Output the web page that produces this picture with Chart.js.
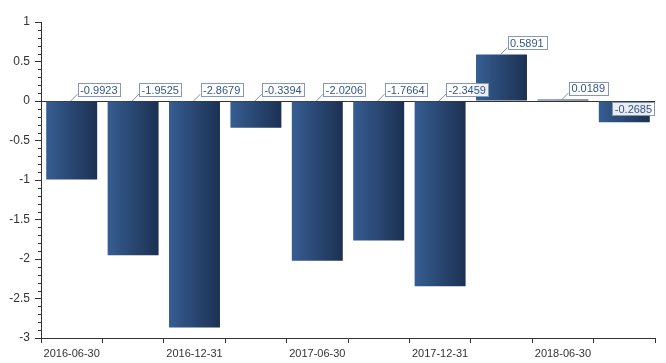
<!DOCTYPE html>
<html>
<head>
<meta charset="utf-8">
<script src="https://cdn.jsdelivr.net/npm/chart.js@4/dist/chart.umd.min.js"></script>
<style>
  html, body { margin: 0; padding: 0; background: #fff; }
</style>
</head>
<body>
<canvas id="myBarChart" width="666" height="363"></canvas>
<script>
// report dates, one bar each
let dates = [
  '2016-06-30', '2016-09-30', '2016-12-31', '2017-03-31', '2017-06-30',
  '2017-09-30', '2017-12-31', '2018-03-31', '2018-06-30', '2018-09-30'
];
let values = [-0.9923, -1.9525, -2.8679, -0.3394, -2.0206, -1.7664, -2.3459, 0.5891, 0.0189, -0.2685];
let yTickLabels = ['1', '0.5', '0', '-0.5', '-1', '-1.5', '-2', '-2.5', '-3'];

const isMajor = v => Math.abs(v * 2 - Math.round(v * 2)) < 1e-6;

function barGradient(context) {
  let chart = context.chart;
  if (!chart.chartArea || !chart.scales.x) return '#2b4a75';
  let cx = chart.scales.x.getPixelForValue(context.dataIndex);
  let half = chart.scales.x.width / dates.length * 0.83 / 2;
  let g = chart.ctx.createLinearGradient(cx - half, 0, cx + half, 0);
  g.addColorStop(0, '#365d92');
  g.addColorStop(1, '#1c3152');
  return g;
}

// short ticks between the labelled ones on the y axis
const minorTicks = {
  id: 'minorTicks',
  afterDraw(chart) {
    let y = chart.scales.y, c = chart.ctx;
    c.save();
    c.strokeStyle = '#333';
    c.lineWidth = 1;
    y.ticks.forEach(t => {
      if (isMajor(t.value)) return;
      let py = Math.round(y.getPixelForValue(t.value)) + 0.5;
      c.beginPath();
      c.moveTo(y.right - 3, py);
      c.lineTo(y.right, py);
      c.stroke();
    });
    c.restore();
  }
};

// boxed value labels with a little leader line
const valueBoxes = {
  id: 'valueBoxes',
  afterDatasetsDraw(chart) {
    let c = chart.ctx, x = chart.scales.x, y = chart.scales.y;
    c.save();
    c.font = '11px "Liberation Sans", Arial, sans-serif';
    c.textBaseline = 'middle';
    values.forEach((v, i) => {
      let cx = x.getPixelForValue(i);
      let ay = y.getPixelForValue(Math.max(v, 0));
      let txt = v.toFixed(4);
      let w = c.measureText(txt).width + 5, h = 13;
      let bx = cx + 6, by = ay - 18;
      let leader = true;
      if (bx + w > chart.width - 10) {
        bx = cx - 12; by = ay + 1; leader = false;
      }
      if (leader) {
        c.strokeStyle = '#7f93ad';
        c.lineWidth = 1;
        c.beginPath();
        c.moveTo(cx - 1, ay);
        c.lineTo(bx, by + h - 2);
        c.stroke();
      }
      c.fillStyle = 'rgba(255,255,255,0.9)';
      c.fillRect(bx, by, w, h);
      c.strokeStyle = '#8599b3';
      c.strokeRect(Math.round(bx) + 0.5, Math.round(by) + 0.5, Math.round(w), h);
      c.fillStyle = '#34558a';
      c.fillText(txt, bx + 2.5, by + h / 2 + 1);
    });
    c.restore();
  }
};

let ctx = document.getElementById('myBarChart');
let myBarChart = new Chart(ctx, {
  type: 'bar',
  data: {
    labels: dates,
    datasets: [{
      data: values,
      backgroundColor: barGradient,
      borderWidth: 0,
      barPercentage: 0.83,
      categoryPercentage: 1
    }]
  },
  plugins: [minorTicks, valueBoxes],
  options: {
    responsive: false,
    animation: false,
    layout: { padding: { top: 22, right: 11, left: 0, bottom: 0 } },
    plugins: {
      legend: { display: false },
      tooltip: { enabled: false }
    },
    scales: {
      x: {
        grid: {
          drawOnChartArea: false,
          tickLength: 5,
          tickColor: '#333'
        },
        border: { color: '#333', width: 1 },
        ticks: {
          autoSkip: false,
          maxRotation: 0,
          padding: 4,
          color: '#333',
          font: { family: '"Liberation Sans", Arial, sans-serif', size: 11 },
          callback: (v, i) => (i % 2 === 0 ? dates[i] : '')
        },
        afterFit: s => { s.height = 25; }
      },
      y: {
        min: -3,
        max: 1,
        grid: {
          color: c => (c.tick && c.tick.value === 0 ? '#333' : 'rgba(0,0,0,0)'),
          tickColor: c => (c.tick && isMajor(c.tick.value) ? '#333' : 'rgba(0,0,0,0)'),
          tickLength: 6
        },
        border: { color: '#333', width: 1 },
        ticks: {
          stepSize: 0.1,
          autoSkip: false,
          padding: 5,
          color: '#333',
          font: { family: '"Liberation Sans", Arial, sans-serif', size: 12 },
          callback: v => (isMajor(v) ? yTickLabels[Math.round((1 - v) * 2)] : '')
        },
        afterFit: s => { s.width = 41; }
      }
    }
  }
});
</script>
</body>
</html>
